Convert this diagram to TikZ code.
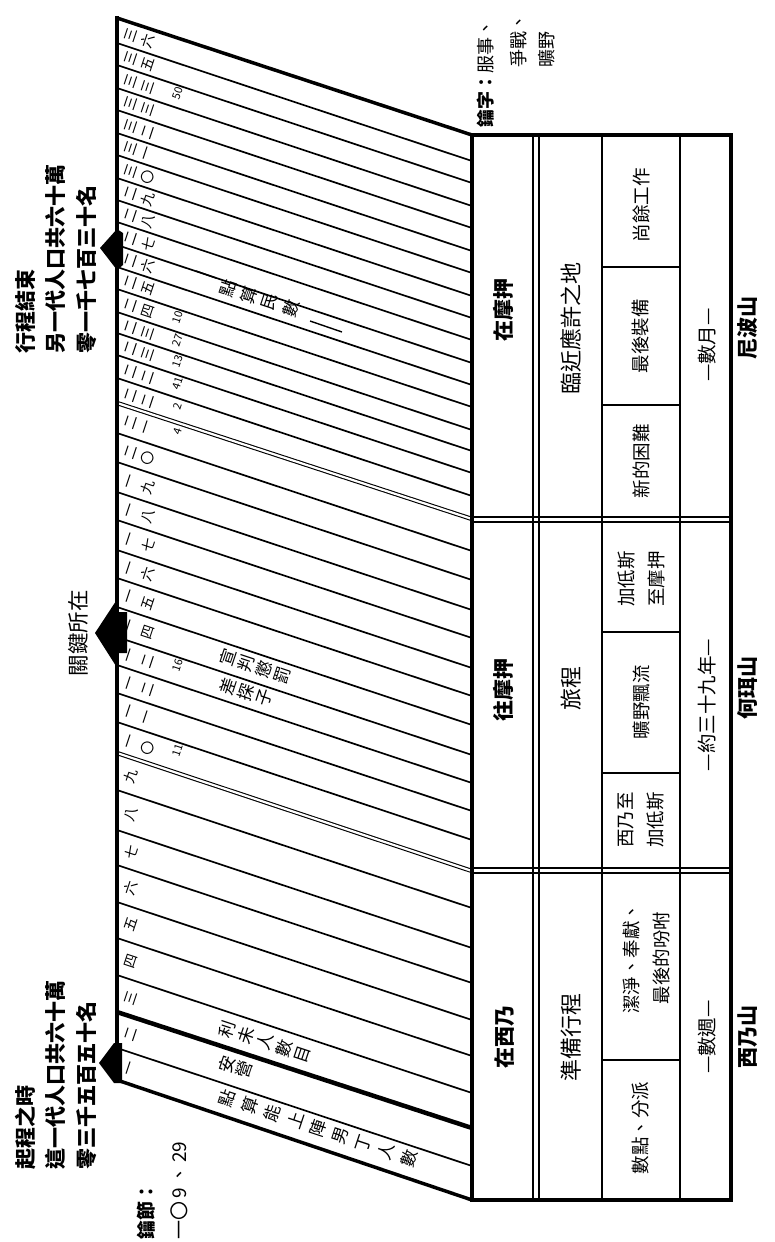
\documentclass[tikz,border=0pt]{standalone}
\usepackage{fontspec}
\setmainfont{Noto Sans CJK TC}
\usetikzlibrary{calc}

% vertical text running down a slanted band
\newcommand\bandtext[5]{% name, x, y, pitch, chars
  \foreach \ch [count=\i from 0] in {#5} {
    \node[btxt] (#1-\i) at ({#2+\i*#4*0.949},{#3+\i*#4*0.316}) {\ch};
  }
}

\begin{document}
\begin{tikzpicture}[x=1pt, y=-1pt,
    band/.style={line width=1.7pt},
    heavy/.style={line width=4.5pt},
    dbl/.style={double, double distance=2.2pt, line width=1.1pt},
    border/.style={line width=3.5pt},
    rule/.style={line width=1.4pt},
    flag/.style={fill=black, draw=none},
    rot/.style={rotate=90, inner sep=0pt},
    note/.style={rot, align=left, font=\fontsize{21}{30.5}\selectfont\bfseries},
    head/.style={rot, font=\fontsize{21}{21}\selectfont\bfseries},
    stage/.style={rot, font=\fontsize{22}{22}\selectfont},
    cell/.style={rot, align=center, font=\fontsize{18.5}{30}\selectfont},
    span/.style={rot, font=\fontsize{19.5}{19.5}\selectfont},
    btxt/.style={rotate=71.6, inner sep=0pt, font=\fontsize{17}{17}\selectfont},
    chap/.style={rotate=71.6, inner sep=0pt, font=\fontsize{14}{14}\selectfont},
    vnum/.style={rotate=71.6, inner sep=0pt, font=\fontsize{11}{11}\selectfont}
]
\useasboundingbox (0,0) rectangle (774,1242);

% slanted chapter bands
\foreach \y in {43,65,88,110,133,155,178,200,222,245,267,289,312,333,355,378,
                433,462,492,520,550,578,607,637,665,693,722,790,830,865,902,938,975,1048}
  \draw[band] (117,\y) -- (472,\y+118);
\draw[dbl] (117,403) -- (472,519);
\draw[dbl] (117,753) -- (472,871);
\draw[heavy] (117,1012) -- (472,1128);
\draw[border] (117,18) -- (472,135);
\draw[border] (117,1080) -- (472,1200);
\draw[line width=4.5pt] (117,16) -- (117,1082);

% table
\draw[border] (472,135) rectangle (731,1200);
\foreach \x in {533,539,602,680}
  \draw[rule] (\x,135) -- (\x,1200);
\foreach \y in {517,522,868,873}
  \draw[rule] (472,\y) -- (731,\y);
\foreach \y in {267,405,632,773,1060}
  \draw[rule] (602,\y) -- (680,\y);

% flags on the left edge
\fill[flag] (100,248) -- (117,229) -- (123,233) -- (123,265) -- (117,270) -- cycle;
\fill[flag] (95,633) -- (116,601) -- (116,612) -- (127,612) -- (127,653) -- (116,653) -- (116,666) -- cycle;
\fill[flag] (99,1063) -- (114,1043) -- (122,1043) -- (122,1083) -- (114,1083) -- cycle;

% notes
\node[note, anchor=north west] (endnote) at (15,354) {行程結束\\另一代人口共六十萬\\零一千七百三十名};
\node[note, anchor=north west] (startnote) at (15,1170) {起程之時\\這一代人口共六十萬\\零三千五百五十名};
\node[rot, font=\fontsize{21.5}{21.5}\selectfont] (keypoint) at (78,633) {關鍵所在};
\node[rot, anchor=north west, align=left, font=\fontsize{19}{33}\selectfont] (keyverse) at (137,1240) {{\bfseries 鑰節：}\\一〇\,9\,、\,29};
\node[rot, anchor=north west, font=\fontsize{18}{18}\selectfont] (keyword) at (477,128) {{\bfseries 鑰字：}服事、};
\node[rot, anchor=north west, font=\fontsize{18}{18}\selectfont] (keyword2) at (510,68) {爭戰、};
\node[rot, anchor=north west, font=\fontsize{18}{18}\selectfont] (keyword3) at (538,68) {曠野};

% table texts
\node[head] (moab) at (503,310) {在摩押};
\node[head] (tomoab) at (503,690) {往摩押};
\node[head] (sinai) at (505,1037) {在西乃};
\node[stage] (near) at (571,328) {臨近應許之地};
\node[stage] (journey) at (571,688) {旅程};
\node[stage] (prep) at (571,1037) {準備行程};
\node[cell] (rest) at (641,205) {尚餘工作};
\node[cell] (equip) at (641,336) {最後裝備};
\node[cell] (trouble) at (641,461) {新的困難};
\node[cell] (kadmoab) at (641,579) {加低斯\\至摩押};
\node[cell] (wander) at (641,702) {曠野飄流};
\node[cell] (sinkad) at (641,820) {西乃至\\加低斯};
\node[cell] (purify) at (646,958) {潔淨、奉獻、\\最後的吩咐};
\node[cell] (number) at (641,1128) {數點、分派};
\node[span] (months) at (707,345) {—數月—};
\node[span] (years) at (707,705) {—約三十九年—};
\node[span] (weeks) at (707,1037) {—數週—};
\node[head] (nebo) at (748,328) {尼波山};
\node[head] (hor) at (748,688) {何珥山};
\node[head] (sinaimt) at (748,1037) {西乃山};

% band texts
\bandtext{census}{227}{1098}{24}{點,算,能,上,陣,男,丁,人,數}
\bandtext{camp}{227}{1064}{18}{安,營}
\bandtext{levi}{227}{1029}{20}{利,未,人,數,目}
\bandtext{spies}{228}{686}{19}{差,探,子}
\bandtext{judge}{228}{657}{19}{宣,判,懲,罰}
\bandtext{recount}{228}{288}{22}{點,算,民,數}
\coordinate (rc-a) at (196,271);
\coordinate (rc-b) at (216,278);
\coordinate (rc-c) at (310,321);
\coordinate (rc-d) at (342,332);
\draw[rule] (rc-a) -- (rc-b);
\draw[rule] (rc-c) -- (rc-d);

% chapter numbers
\foreach \a/\b/\c/\d/\e in {18/43/三/六/{},43/65/三/五/{},65/88/三/三/50,88/110/三/三/{},
    110/133/三/二/{},133/155/三/一/{},155/178/三/〇/{},178/200/二/九/{},200/222/二/八/{},
    222/245/二/七/{},245/267/二/六/{},267/289/二/五/{},289/312/二/四/10,312/333/二/三/27,
    333/355/二/三/13,355/378/二/二/41,378/403/二/二/2,403/433/二/一/4,433/462/二/〇/{},
    462/492/一/九/{},492/520/一/八/{},520/550/一/七/{},550/578/一/六/{},578/607/一/五/{},
    607/637/一/四/{},637/665/一/二/16,665/693/一/二/{},693/722/一/一/{},722/753/一/〇/11,
    753/790/九/{}/{},790/830/八/{}/{},830/865/七/{}/{},865/902/六/{}/{},902/938/五/{}/{},
    938/975/四/{}/{},975/1012/三/{}/{},1012/1048/二/{}/{},1048/1080/一/{}/{}} {
  \node[chap] (c\a) at (131,{(\a+\b)/2+4.7}) {\c};
  \node[chap] (d\a) at (148,{(\a+\b)/2+10.4}) {\d};
  \node[vnum] (v\a) at (178,\a+28) {\e};
}
\end{tikzpicture}
\end{document}
